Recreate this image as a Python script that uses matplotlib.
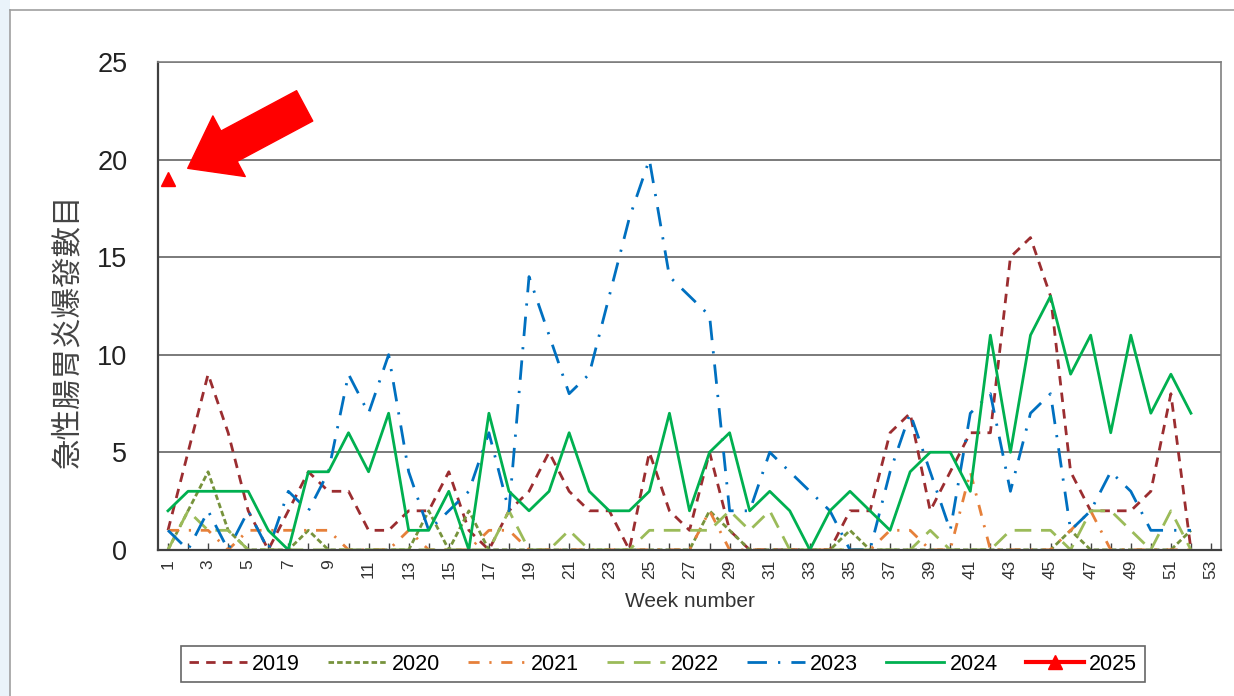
import matplotlib
matplotlib.use("Agg")
import matplotlib.pyplot as plt
from matplotlib.lines import Line2D
from matplotlib.patches import Rectangle

plt.rcParams['font.family'] = ['Liberation Sans', 'Noto Sans CJK TC', 'DejaVu Sans']

weeks = list(range(1, 53))
y2019 = [1, 5, 9, 6, 2, 0, 2, 4, 3, 3, 1, 1, 2, 2, 4, 1, 0, 2, 3, 5, 3, 2, 2, 0, 5, 2,
         1, 5, 1, 0, 0, 0, 0, 0, 2, 2, 6, 7, 2, 4, 6, 6, 15, 16, 13, 4, 2, 2, 2, 3, 8, 0]
y2020 = [0, 2, 4, 1, 0, 0, 0, 1, 0, 0, 0, 0, 0, 2, 0, 2, 0, 0, 0, 0, 0, 0, 0, 0, 0, 0,
         0, 2, 1, 0, 0, 0, 0, 0, 1, 0, 0, 0, 0, 0, 0, 0, 0, 0, 0, 1, 0, 0, 0, 0, 0, 1]
y2021 = [1, 1, 1, 0, 1, 1, 1, 1, 1, 0, 0, 0, 1, 0, 0, 0, 1, 1, 0, 0, 0, 0, 0, 0, 0, 0,
         0, 2, 0, 0, 0, 0, 0, 0, 0, 0, 1, 1, 0, 0, 4, 0, 0, 0, 0, 1, 2, 0, 0, 0, 0, 0]
y2022 = [0, 2, 1, 1, 0, 0, 0, 0, 0, 0, 0, 0, 0, 0, 0, 0, 0, 2, 0, 0, 1, 0, 0, 0, 1, 1,
         1, 1, 2, 1, 2, 0, 0, 0, 0, 0, 0, 0, 1, 0, 0, 0, 1, 1, 1, 0, 2, 2, 1, 0, 2, 0]
y2023 = [1, 0, 2, 0, 2, 0, 3, 2, 4, 9, 7, 10, 4, 1, 2, 3, 6, 2, 14, 11, 8, 9, 13, 17, 20, 14,
         13, 12, 2, 2, 5, 4, 3, 2, 0, 0, 4, 7, 4, 1, 7, 8, 3, 7, 8, 1, 2, 4, 3, 1, 1, 1]
y2024 = [2, 3, 3, 3, 3, 1, 0, 4, 4, 6, 4, 7, 1, 1, 3, 0, 7, 3, 2, 3, 6, 3, 2, 2, 3, 7,
         2, 5, 6, 2, 3, 2, 0, 2, 3, 2, 1, 4, 5, 5, 3, 11, 5, 11, 13, 9, 11, 6, 11, 7, 9, 7]
weeks2025 = [1]
y2025 = [19]

fig = plt.figure(figsize=(12.34, 6.96), dpi=100)
ax = fig.add_axes([0.128, 0.21, 0.8615, 0.701])

lw = 2.0
ax.plot(weeks, y2019, color='#9B2D30', lw=lw, dashes=(3.4, 2.6), label='2019')
ax.plot(weeks, y2020, color='#77933C', lw=lw, dashes=(2.0, 1.1), label='2020')
ax.plot(weeks, y2021, color='#E6803A', lw=lw, dashes=(4, 3.5, 0.8, 3.5), label='2021')
ax.plot(weeks, y2022, color='#9BBB59', lw=lw, dashes=(6, 3.5), label='2022')
ax.plot(weeks, y2023, color='#0070C0', lw=lw, dashes=(7, 4, 0.8, 4), label='2023')
ax.plot(weeks, y2024, color='#00B050', lw=lw, label='2024')
ax.plot(weeks2025, y2025, color='#FF0000', lw=3, marker='^', markersize=10, label='2025')

ax.set_xlim(0.5, 53.5)
ax.set_ylim(0, 25)
ax.set_yticks([0, 5, 10, 15, 20, 25])
ax.yaxis.grid(True, color='#707070', lw=1.3)
ax.set_axisbelow(True)
ax.tick_params(axis='y', length=0, pad=22, labelsize=19.5, labelcolor='#222222')

ax.set_xticks(range(1, 54))
ax.set_xticklabels([str(w) if w % 2 == 1 else '' for w in range(1, 54)], rotation=90)
ax.tick_params(axis='x', direction='in', length=5, width=1, pad=7, labelsize=12.5,
               labelcolor='#333333', color='#444444')

for side in ['left', 'bottom']:
    ax.spines[side].set_color('#404040')
    ax.spines[side].set_linewidth(1.6)
for side in ['top', 'right']:
    ax.spines[side].set_color('#808080')
    ax.spines[side].set_linewidth(1.2)

ax.set_xlabel('Week number', fontsize=15, color='#333333', labelpad=9)
ax.set_ylabel('急性腸胃炎爆發數目', fontsize=22, color='#444444')
ax.yaxis.set_label_coords(-0.07, 0.45)

leg = ax.legend(loc='upper center', bbox_to_anchor=(0.475, -0.175), ncol=7, frameon=True,
                fancybox=False, edgecolor='#404040', fontsize=15.5, handlelength=2.7,
                handletextpad=0.25, columnspacing=1.3, borderpad=0.35)
leg.get_frame().set_linewidth(1.2)

# arrow pointing at the 2025 point
ax.annotate('', xy=(0.028, 0.782), xytext=(0.138, 0.91), xycoords='axes fraction',
            arrowprops=dict(arrowstyle='simple,head_length=0.75,head_width=1.1,tail_width=0.55',
                            color='#FF0000', mutation_scale=45, shrinkA=0, shrinkB=0))

# page frame
fig.add_artist(Rectangle((0, 0), 10 / 1234, 1, transform=fig.transFigure,
                         color='#EAF3FA', lw=0))
fig.add_artist(Line2D([10 / 1234, 1], [1 - 10 / 696, 1 - 10 / 696], transform=fig.transFigure,
                      color='#A0A0A0', lw=1.2))
fig.add_artist(Line2D([10 / 1234, 10 / 1234], [0, 1 - 10 / 696], transform=fig.transFigure,
                      color='#A0A0A0', lw=1.2))

fig.savefig('out.png', dpi=100)
